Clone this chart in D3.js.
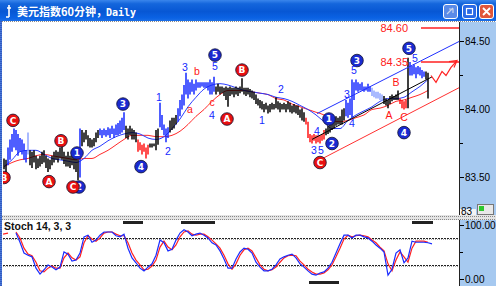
<!DOCTYPE html>
<html><head><meta charset="utf-8">
<script src="https://cdn.jsdelivr.net/npm/d3@7"></script>
<style>body{margin:0;background:#fff;overflow:hidden}svg{display:block}</style>
</head><body><svg id="c" width="496" height="286"></svg>
<script>
// ---------------- DATA ----------------
const titleCN = "美元指数60分钟，";
const titleEN = "Daily";
const stochLabel = "Stoch 14, 3, 3";
const priceTicks = [83.5, 84.0, 84.5];
const priceMinorTicks = [83.75, 84.25];
const stochTicks = [0, 100];
const stochLevels = [25, 75];

const highs = [83.64,83.63,83.72,83.78,83.82,83.86,83.85,83.82,83.79,83.78,
83.75,83.70,83.83,83.70,83.69,83.70,83.66,83.64,83.66,83.69,
83.70,83.66,83.64,83.63,83.66,83.69,83.70,83.69,83.72,83.75,
83.69,83.66,83.69,83.66,83.69,83.66,83.64,83.63,83.86,83.85,
83.83,83.85,83.81,83.79,83.78,83.79,83.83,83.85,83.86,83.85,
83.86,83.85,83.87,83.86,83.88,83.86,83.89,83.90,83.92,83.94,
83.98,83.88,83.86,83.88,83.86,83.85,83.83,83.78,83.76,83.74,
83.75,83.72,83.74,83.75,83.75,83.75,83.85,83.86,84.05,83.96,
83.89,83.86,83.87,83.92,83.94,83.94,83.96,84.01,84.07,84.11,
84.18,84.27,84.22,84.20,84.22,84.19,84.22,84.20,84.20,84.20,
84.20,84.20,84.20,84.22,84.20,84.24,84.17,84.19,84.17,84.17,
84.16,84.17,84.16,84.17,84.16,84.16,84.17,84.16,84.17,84.23,
84.16,84.16,84.16,84.15,84.14,84.13,84.11,84.08,84.07,84.06,
84.04,84.05,84.03,84.04,84.05,84.04,84.09,84.06,84.05,84.04,
84.05,84.04,84.06,84.05,84.03,84.04,84.03,84.03,84.00,84.01,
83.98,83.94,83.91,83.82,83.81,83.82,83.81,83.81,83.81,83.82,
83.85,83.86,83.88,83.91,83.92,83.94,83.95,83.94,83.95,84.00,
84.01,84.07,84.05,84.08,84.22,84.20,84.22,84.20,84.19,84.20,
84.17,84.17,84.19,84.17,84.16,84.14,84.13,84.13,84.12,84.11,
84.10,84.08,84.07,84.10,84.11,84.10,84.11,84.14,84.08,84.07,
84.06,84.07,84.38,84.35,84.32,84.33,84.31,84.32,84.31,84.29,
84.28,84.28,84.27];
const lows = [83.56,83.54,83.59,83.63,83.69,83.72,83.70,83.66,83.69,83.67,
83.63,83.61,83.67,83.59,83.57,83.61,83.56,83.57,83.58,83.60,
83.61,83.57,83.54,83.56,83.59,83.61,83.63,83.61,83.64,83.63,
83.60,83.58,83.58,83.57,83.59,83.56,83.54,83.48,83.50,83.73,
83.76,83.78,83.73,83.72,83.72,83.73,83.76,83.79,83.81,83.79,
83.81,83.80,83.81,83.79,83.82,83.79,83.81,83.81,83.82,83.83,
83.85,83.79,83.78,83.81,83.78,83.78,83.76,83.69,83.70,83.67,
83.69,83.64,83.67,83.72,83.72,83.73,83.70,83.74,83.87,83.85,
83.81,83.76,83.79,83.83,83.85,83.86,83.89,83.91,83.95,84.00,
84.03,84.11,84.08,84.11,84.13,84.11,84.14,84.16,84.16,84.17,
84.16,84.16,84.14,84.11,84.11,84.13,84.11,84.13,84.11,84.12,
84.10,84.07,84.02,84.10,84.11,84.09,84.11,84.10,84.12,84.13,
84.11,84.10,84.11,84.09,84.08,84.07,84.04,84.03,84.01,84.00,
83.98,84.00,83.97,83.98,84.00,84.00,84.01,84.00,83.98,84.00,
84.00,83.98,84.00,83.98,83.97,83.98,83.97,83.96,83.94,83.92,
83.91,83.89,83.79,83.76,83.75,83.77,83.75,83.76,83.75,83.77,
83.78,83.81,83.82,83.83,83.85,83.86,83.88,83.89,83.89,83.89,
83.92,83.95,83.94,83.96,83.94,84.07,84.14,84.13,84.14,84.14,
84.13,84.14,84.13,84.13,84.10,84.09,84.08,84.08,84.07,84.06,
84.04,84.03,84.01,84.04,84.06,84.07,84.07,84.07,84.04,84.01,
84.00,84.01,84.01,84.25,84.25,84.26,84.23,84.26,84.25,84.23,
84.24,84.22,84.08];
// wave-colour category of bar ranges: k=neutral, b=impulse, lb=light impulse, r=corrective
const barKinds = [[0,1,"k"],[2,11,"b"],[12,12,"lb"],[13,37,"k"],[38,38,"b"],[39,47,"k"],
[48,60,"b"],[61,66,"k"],[67,72,"r"],[73,77,"k"],[78,82,"b"],[83,86,"k"],[87,105,"b"],
[106,150,"k"],[151,160,"r"],[161,170,"k"],[171,183,"b"],[184,189,"lb"],[190,197,"k"],
[198,201,"r"],[202,202,"k"],[203,210,"b"],[211,212,"k"]];
// moving averages, one value every 4 bars from bar 0
const maFast = [83.58,83.63,83.69,83.70,83.70,83.67,83.64,83.63,83.62,83.61,
83.64,83.70,83.73,83.77,83.80,83.82,83.83,83.82,83.79,83.78,
83.80,83.86,83.93,84.02,84.09,84.15,84.18,84.19,84.18,84.16,
84.14,84.13,84.12,84.11,84.09,84.08,84.06,84.03,84.00,83.96,
83.91,83.86,83.86,83.92,83.96,83.99,84.02,84.06,84.08,84.08,
84.09,84.13,84.17,84.22];
const maSlow = [83.58,83.61,83.63,83.64,83.66,83.67,83.66,83.65,83.64,83.63,
83.64,83.64,83.67,83.70,83.74,83.78,83.81,83.81,83.81,83.80,
83.80,83.81,83.84,83.89,83.95,84.00,84.06,84.11,84.14,84.14,
84.14,84.13,84.12,84.11,84.08,84.07,84.04,84.02,84.00,83.98,
83.96,83.92,83.91,83.92,83.94,83.96,84.00,84.01,84.03,84.06,
84.07,84.09,84.11,84.14];
// stochastic, one value every 2 bars from bar 6
const stochK = [86,69,49,45,42,21,10,18,27,23,
18,23,51,47,34,36,49,79,82,69,
73,82,88,88,88,81,79,84,58,40,
31,21,16,23,29,45,73,68,53,56,
73,86,92,88,81,84,86,82,77,68,
64,53,38,21,21,38,51,58,56,49,
32,23,16,16,19,27,38,42,45,47,
40,29,23,16,10,8,12,14,21,32,
49,66,82,82,77,82,82,79,77,71,
64,58,51,8,19,49,55,31,40,71,
69,69,69,68,66];
const stochD = [88,77,58,47,44,32,16,14,21,25,
21,21,40,49,40,36,42,68,81,75,
71,77,86,88,88,84,81,81,68,49,
36,27,18,19,25,36,60,71,60,55,
64,79,88,90,84,82,84,84,79,73,
66,58,45,29,19,29,45,55,58,53,
40,27,19,16,18,23,32,40,44,45,
44,34,27,19,14,10,10,12,18,27,
42,58,75,82,79,81,82,81,79,73,
68,60,53,29,16,36,51,42,32,58,
71,71,71,69];
const stochFlagsTop = [[59.5,69.5],[88.5,105.5],[204,214.5]];
const stochFlagsBottom = [[152.5,167.5]];
// Elliott wave annotations [barIndex, price, text]
const waveBlueCircles = [[36.5,83.68,"1"],[37.5,83.43,"2"],[59.5,84.04,"3"],[68.5,83.58,"4"],[105.5,84.40,"5"],
[162.5,83.93,"1"],[164,83.75,"2"],[176.5,84.36,"3"],[200,83.83,"4"],[202.5,84.45,"5"]];
const waveRedCircles = [[4.5,83.92,"C"],[0,83.50,"B"],[22.5,83.47,"A"],[28.5,83.77,"B"],[34.5,83.43,"C"],
[111.5,83.93,"A"],[119,84.29,"B"],[158,83.61,"C"]];
const waveBlueText = [[77.5,84.09,"1"],[82,83.69,"2"],[90.5,84.31,"3"],[104,83.955,"4"],[105.5,84.32,"5"],
[129,83.92,"1"],[138.5,84.15,"2"],[155,83.70,"3"],[158.5,83.70,"5"],[156.5,83.84,"4"],
[171.5,84.11,"3"],[174,83.90,"4"],[175,84.29,"5"],[205.5,84.38,"5"]];
const waveRedText = [[93,84.00,"a"],[96.5,84.28,"b"],[104,84.055,"c"],[192.5,83.96,"A"],[196,84.20,"B"],[200,83.94,"C"]];
// trend channel lines [[i0,p0],[i1,p1]]
const channelUpper = [[156.5,83.97],[227.5,84.50]];
const channelLower = [[158,83.63],[227.5,84.16]];
const channelMid = [[154,83.78],[214,84.24]];
const targetLevels = [84.60, 84.35];
const projection = [[213.5,84.25],[216,84.20],[219,84.28],[221,84.25],[223.5,84.31],[226.5,84.36]];

// ---------------- DRAW ----------------
const svg = d3.select("#c");
const defs = svg.append("defs");
const g1 = defs.append("linearGradient").attr("id","tb").attr("x1",0).attr("y1",0).attr("x2",0).attr("y2",1);
[[0,"#3a86ec"],[0.18,"#1466dc"],[0.55,"#0757d4"],[0.85,"#0a62e4"],[1,"#1c6fe8"]].forEach(([o,c])=>g1.append("stop").attr("offset",o).attr("stop-color",c));
defs.append("clipPath").attr("id","cm").append("rect").attr("x",3).attr("y",23).attr("width",456).attr("height",192);
defs.append("clipPath").attr("id","cs").append("rect").attr("x",3).attr("y",220).attr("width",456).attr("height",66);
defs.append("clipPath").attr("id","ca").append("rect").attr("x",460).attr("y",220).attr("width",36).attr("height",66);
defs.append("clipPath").attr("id","cam").append("rect").attr("x",460).attr("y",23).attr("width",36).attr("height",192);

svg.append("rect").attr("width",496).attr("height",286).attr("fill","#fff");
// title bar
svg.append("rect").attr("x",0).attr("y",0).attr("width",496).attr("height",21).attr("fill","url(#tb)");
svg.append("path").attr("d","M9,5 L9,17 M9,17 L6,17 M7,8 L11,8").attr("stroke","#fff").attr("stroke-width",1.6).attr("fill","none");
svg.append("text").attr("x",17).attr("y",16).attr("fill","#fff").attr("font-family","'Noto Sans CJK SC'").attr("font-weight","bold").attr("font-size",11).text(titleCN);
svg.append("text").attr("x",106).attr("y",16).attr("fill","#fff").attr("font-family","'DejaVu Sans Mono'").attr("font-weight","bold").attr("font-size",10).text(titleEN);
// window buttons
const btns=[{x:443,c:"#5a8be8",t:"help"},{x:462,c:"#2a6ae6",t:"max"},{x:479,c:"#e0563a",t:"close"}];
btns.forEach(b=>{
  svg.append("rect").attr("x",b.x+0.5).attr("y",4.5).attr("width",14).attr("height",14).attr("rx",2.5).attr("fill",b.c).attr("stroke","#fff").attr("stroke-width",1);
  if(b.t==="close") svg.append("path").attr("d",`M${b.x+4},8 L${b.x+11},15 M${b.x+11},8 L${b.x+4},15`).attr("stroke","#fff").attr("stroke-width",1.8);
  if(b.t==="max") svg.append("rect").attr("x",b.x+4.5).attr("y",8.5).attr("width",6).attr("height",6).attr("fill","none").attr("stroke","#fff").attr("stroke-width",1.2);
  if(b.t==="help") svg.append("path").attr("d",`M${b.x+4},14 L${b.x+10},8 M${b.x+6},9 L${b.x+10},9 L${b.x+10},13`).attr("stroke","#c8d4ea").attr("stroke-width",1.2).attr("fill","none");
});
svg.append("line").attr("x1",0).attr("x2",496).attr("y1",21.5).attr("y2",21.5).attr("stroke","#8a8a8a").attr("stroke-dasharray","1,1");
// left frame
svg.append("rect").attr("x",0).attr("y",21).attr("width",2).attr("height",265).attr("fill","#4a78d8");
svg.append("line").attr("x1",1).attr("x2",1).attr("y1",21).attr("y2",286).attr("stroke","#1c3fa8").attr("stroke-dasharray","1,1");
// axis panels
svg.append("rect").attr("x",460).attr("y",22).attr("width",36).attr("height",194).attr("fill","#a6c9f0");
svg.append("rect").attr("x",460).attr("y",220).attr("width",36).attr("height",66).attr("fill","#a6c9f0");
svg.append("line").attr("x1",459.5).attr("x2",459.5).attr("y1",22).attr("y2",286).attr("stroke","#222");
// separator
svg.append("rect").attr("x",2).attr("y",215).attr("width",494).attr("height",5).attr("fill","#e4e4e4");
[216.5,219.5].forEach(yy=>svg.append("line").attr("x1",2).attr("x2",496).attr("y1",yy).attr("y2",yy).attr("stroke","#888").attr("stroke-dasharray","1,1"));

const x = d3.scaleLinear().domain([0,227.5]).range([4,459]);
const y = d3.scaleLinear().domain([83.5,84.5]).range([177.5,41.5]);
const ys = d3.scaleLinear().domain([0,100]).range([279.5,225.5]);

// price axis
const ga = svg.append("g").attr("clip-path","url(#cam)");
priceTicks.forEach(p=>{
  ga.append("line").attr("x1",460).attr("x2",464).attr("y1",y(p)).attr("y2",y(p)).attr("stroke","#000");
  ga.append("text").attr("x",465).attr("y",y(p)).attr("dy","0.35em").attr("font-family","'Liberation Sans'").attr("font-size",10).attr("fill","#000").text(d3.format(".2f")(p));
});
priceMinorTicks.forEach(p=>ga.append("line").attr("x1",460).attr("x2",463).attr("y1",y(p)).attr("y2",y(p)).attr("stroke","#000"));
// bottom-right small box & icon
ga.append("rect").attr("x",460).attr("y",209).attr("width",16).attr("height",8).attr("fill","#f4f4f4");
ga.append("text").attr("x",461).attr("y",y(83.25)).attr("dy","0.35em").attr("font-family","'Liberation Sans'").attr("font-size",10).attr("fill","#000").text("83");
ga.append("rect").attr("x",477.5).attr("y",204.5).attr("width",16).attr("height",10).attr("fill","#e8e8e8").attr("stroke","#777");
ga.append("rect").attr("x",479).attr("y",206).attr("width",5).attr("height",5).attr("fill","#2ec82e");

// main plot
const gm = svg.append("g").attr("clip-path","url(#cm)");
const kindColor = {k:"#000000",b:"#1428ff",lb:"#8da3ff",r:"#ff1414"};
const kindOf = i => (barKinds.find(([a,b])=>i>=a&&i<=b)||[0,0,"k"])[2];
// moving averages
const maLine = d3.line().x((d,j)=>x(j*4)).y(d=>y(d)).curve(d3.curveMonotoneX);
gm.append("path").attr("d",maLine(maSlow)).attr("fill","none").attr("stroke","#ff2a2a").attr("stroke-width",1);
gm.append("path").attr("d",maLine(maFast)).attr("fill","none").attr("stroke","#2a3cff").attr("stroke-width",1);
// bars
gm.selectAll("line.bar").data(highs).join("line").attr("class","bar")
  .attr("x1",(d,i)=>x(i)).attr("x2",(d,i)=>x(i))
  .attr("y1",d=>y(d)).attr("y2",(d,i)=>y(lows[i]))
  .attr("stroke",(d,i)=>kindColor[kindOf(i)]).attr("stroke-width",1.5);
// channels
const seg = (pts,col)=>gm.append("line").attr("x1",x(pts[0][0])).attr("y1",y(pts[0][1])).attr("x2",x(pts[1][0])).attr("y2",y(pts[1][1])).attr("stroke",col).attr("stroke-width",1);
seg(channelUpper,"#2030ff");
seg(channelLower,"#ff3030");
seg(channelMid,"#000");
// target levels
targetLevels.forEach(p=>{
  gm.append("line").attr("x1",x(208.5)).attr("x2",x(227.5)).attr("y1",y(p)).attr("y2",y(p)).attr("stroke","#ff2020").attr("stroke-width",1.5);
  gm.append("text").attr("x",x(202)).attr("y",y(p)).attr("dy","0.35em").attr("text-anchor","end").attr("font-family","'Liberation Sans'").attr("font-size",11).attr("fill","#ff2020").text(d3.format(".2f")(p));
});
// projection zigzag
gm.append("path").attr("d",d3.line().x(d=>x(d[0])).y(d=>y(d[1]))(projection)).attr("fill","none").attr("stroke","#ff2020").attr("stroke-width",1.2);
const pe = projection[projection.length-1];
gm.append("path").attr("d",`M${x(pe[0])-8},${y(pe[1])+1} L${x(pe[0])},${y(pe[1])} L${x(pe[0])-3},${y(pe[1])+7}`).attr("fill","none").attr("stroke","#ff2020").attr("stroke-width",1.2);
// wave labels
const circ = (arr,fill)=>arr.forEach(([i,p,t])=>{
  gm.append("circle").attr("cx",x(i)).attr("cy",y(p)).attr("r",6.3).attr("fill",fill).attr("stroke","#101030").attr("stroke-width",0.8);
  gm.append("text").attr("x",x(i)).attr("y",y(p)).attr("dy","0.36em").attr("text-anchor","middle").attr("font-family","'DejaVu Sans'").attr("font-weight","bold").attr("font-size",9).attr("fill","#fff").text(t);
});
circ(waveBlueCircles,"#1a2ad0");
circ(waveRedCircles,"#e81010");
const txt = (arr,col)=>arr.forEach(([i,p,t])=>gm.append("text").attr("x",x(i)).attr("y",y(p)).attr("dy","0.36em").attr("text-anchor","middle").attr("font-family","'Liberation Sans'").attr("font-size",10.5).attr("fill",col).text(t));
txt(waveBlueText,"#1428ff");
txt(waveRedText,"#ff1414");

// stochastic panel
const gs = svg.append("g").attr("clip-path","url(#cs)");
stochLevels.forEach(v=>{
  gs.append("line").attr("x1",3).attr("x2",459).attr("y1",ys(v)+0.5).attr("y2",ys(v)+0.5).attr("stroke","#aaa").attr("stroke-dasharray","1,1");
  gs.append("line").attr("x1",3).attr("x2",459).attr("y1",ys(v)-0.5).attr("y2",ys(v)-0.5).attr("stroke","#222").attr("stroke-dasharray","2,1");
});
const sl = (arr,start)=>d3.line().x((d,j)=>x(start+j*2)).y(d=>ys(d))(arr);
gs.append("path").attr("d",sl(stochD,6)).attr("fill","none").attr("stroke","#ff2020").attr("stroke-width",1.2);
gs.append("path").attr("d",sl(stochK,6)).attr("fill","none").attr("stroke","#1a2cff").attr("stroke-width",1.2);
gs.append("line").attr("x1",3).attr("x2",8).attr("y1",ys(84)).attr("y2",ys(86)).attr("stroke","#ff2020").attr("stroke-width",1.2);
stochFlagsTop.forEach(([a,b])=>gs.append("rect").attr("x",x(a)).attr("y",221).attr("width",x(b)-x(a)).attr("height",3).attr("fill","#222"));
stochFlagsBottom.forEach(([a,b])=>gs.append("rect").attr("x",x(a)).attr("y",281).attr("width",x(b)-x(a)).attr("height",3).attr("fill","#222"));
svg.append("text").attr("x",4).attr("y",230).attr("font-family","'Liberation Sans'").attr("font-weight","bold").attr("font-size",10.5).attr("fill","#111").text(stochLabel);
// stoch axis
const gsa = svg.append("g").attr("clip-path","url(#ca)");
stochTicks.forEach(v=>{
  gsa.append("line").attr("x1",460).attr("x2",464).attr("y1",ys(v)).attr("y2",ys(v)).attr("stroke","#000");
  gsa.append("text").attr("x",465).attr("y",ys(v)).attr("dy","0.35em").attr("font-family","'Liberation Sans'").attr("font-size",10).attr("fill","#000").text(d3.format(".2f")(v));
});
gsa.append("line").attr("x1",460).attr("x2",463).attr("y1",ys(50)).attr("y2",ys(50)).attr("stroke","#000");
</script></body></html>
